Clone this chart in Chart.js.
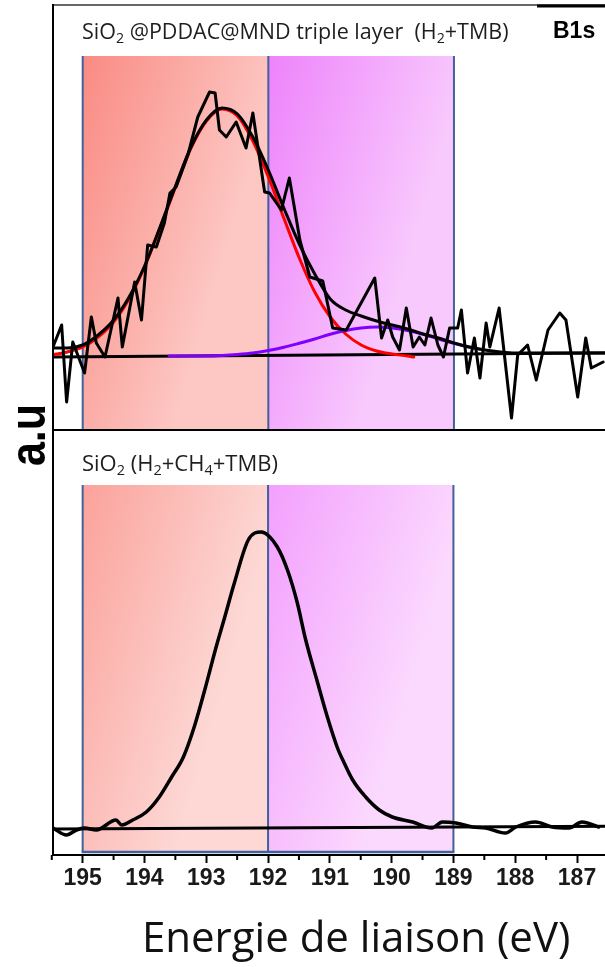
<!DOCTYPE html>
<html>
<head>
<meta charset="utf-8">
<script src="https://cdn.jsdelivr.net/npm/chart.js@4.4.1/dist/chart.umd.min.js"></script>
<style>
  html, body { margin: 0; padding: 0; background: #fff; }
  #wrap { position: relative; width: 605px; height: 967px; overflow: hidden; }
  #wrap canvas { position: absolute; left: 0; top: 0; }
</style>
</head>
<body>
<div id="wrap">
  <canvas id="bottomChart" width="660" height="967"></canvas>
  <canvas id="topChart" width="660" height="967"></canvas>
</div>
<script>
// binding energy window (reversed axis) and shaded regions
const xLeft = 195.48
const xRight = 185.67
const regionEdges = [195, 192, 189]

// top panel: SiO2@PDDAC@MND triple layer (H2+TMB), raw spectrum
const topEv = [195.48, 195.34, 195.26, 195.16, 194.97, 194.86, 194.78, 194.64, 194.43, 194.36,
  194.16, 194.05, 193.95, 193.81, 193.68, 193.59, 193.49, 193.30, 193.14, 192.95,
  192.86, 192.79, 192.68, 192.52, 192.36, 192.25, 192.06, 191.98, 191.79, 191.66,
  191.49, 191.33, 191.12, 190.96, 190.74, 190.28, 190.17, 190.07, 189.99, 189.88,
  189.77, 189.66, 189.56, 189.47, 189.37, 189.26, 189.17, 189.07, 188.94, 188.88,
  188.78, 188.67, 188.58, 188.48, 188.42, 188.27, 188.07, 187.97, 187.81, 187.67,
  187.48, 187.29, 187.19, 187.00, 186.87, 186.78, 186.59]
const topCounts = [10, 32, -45, 15, -16, 40, 14, 0, 59, 10,
  75, 37, 112, 110, 134, 164, 170, 202, 240, 265,
  264, 227, 220, 235, 209, 244, 165, 164, 147, 179,
  117, 80, 76, 29, 27, 79, 19, 37, 20, 7,
  49, 10, 20, 12, 39, 12, 0, 29, 29, 47,
  -16, 19, -21, 34, 10, 49, -61, 2, 12, -23,
  27, 44, 37, -40, 19, -11, -5]

// top panel: fit envelope and components
const envEv = [195.5, 195.25, 195, 194.75, 194.5, 194.25, 194, 193.75, 193.5, 193.25,
  193, 192.75, 192.5, 192.25, 192, 191.75, 191.5, 191.25, 191, 190.75,
  190.5, 190.25, 190, 189.75, 189.5, 189.25, 189, 188.75, 188.5, 188.25,
  188, 187.5, 187, 186.5, 186, 185.67]
const envCounts = [9, 9, 12, 22, 37, 60, 91, 130, 171, 210,
  237, 249, 243, 220, 187, 149, 113, 83, 58, 47,
  41, 36, 32, 28, 23, 19, 14, 10, 7, 5,
  4, 4, 4, 4, 4, 4]
const redEv = [195.5, 195.25, 195, 194.75, 194.5, 194.25, 194, 193.75, 193.5, 193.25,
  193, 192.75, 192.5, 192.25, 192, 191.75, 191.5, 191.25, 191, 190.75,
  190.5, 190.25, 190, 189.75, 189.65]
const redCounts = [2, 5, 10, 20, 35, 58, 90, 129, 170, 209,
  236, 248, 241, 216, 180, 139, 99, 65, 40, 23,
  12, 6, 3, 1, 0]
const purpleEv = [193.6, 193.25, 193, 192.75, 192.5, 192.25, 192, 191.75, 191.5, 191.25,
  191, 190.75, 190.5, 190.25, 190, 189.75, 189.5, 189.25, 189, 188.75]
const purpleCounts = [1, 1, 1, 1.5, 2.5, 4, 6.5, 9.7, 13.7, 18,
  22.7, 26.5, 29, 30, 29, 26.5, 22.7, 18, 13.7, 9.7]
const topBaseEv = [195.48, 185.67]
const topBaseCounts = [0, 4.5]

// bottom panel: SiO2 (H2+CH4+TMB)
const botEv = [195.48, 195.26, 195.10, 194.97, 194.78, 194.46, 194.37, 194.19, 193.97, 193.76,
  193.57, 193.37, 193.19, 193.02, 192.84, 192.70, 192.55, 192.32, 192.11, 191.85,
  191.68, 191.53, 191.39, 191.21, 191.04, 190.87, 190.79, 190.63, 190.42, 190.20,
  189.99, 189.66, 189.35, 189.18, 188.96, 188.69, 188.48, 188.16, 187.99, 187.67,
  187.40, 187.13, 186.92, 186.65]
const botCounts = [1, -6, -1, 1, -1, 9, 4, 9, 17, 32,
  51, 72, 103, 140, 182, 212, 245, 289, 297, 282,
  258, 227, 189, 149, 112, 80, 69, 49, 32, 19,
  12, 7, 1, 7, 6, 2, 1, -4, 2, 7,
  2, 1, 7, 2]
const botBaseEv = [195.48, 185.67]
const botBaseCounts = [0, 3]

const pts = (xs, ys) => xs.map((x, i) => ({ x: x, y: ys[i] }))

const calibri = '"Open Sans", Lato, sans-serif'
const arial = '"Liberation Sans", Arial, sans-serif'

function drawRich(ctx, parts, x, y, size) {
  ctx.save()
  ctx.fillStyle = '#1e1e1e'
  ctx.textBaseline = 'alphabetic'
  ctx.textAlign = 'left'
  for (const [text, sub] of parts) {
    const s = sub ? size * 0.66 : size
    ctx.font = s + 'px ' + calibri
    ctx.fillText(text, x, sub ? y + size * 0.2 : y)
    x += ctx.measureText(text).width
  }
  ctx.restore()
}

function line(ctx, x0, y0, x1, y1, w, c) {
  ctx.save()
  ctx.strokeStyle = c
  ctx.lineWidth = w
  ctx.beginPath()
  ctx.moveTo(x0, y0)
  ctx.lineTo(x1, y1)
  ctx.stroke()
  ctx.restore()
}

// gradient boxes behind the spectra
const shadePlugin = {
  id: 'shade',
  beforeDatasetsDraw(chart, args, opts) {
    const ctx = chart.ctx
    const xs = chart.scales.x
    const ys = chart.scales.y
    const top = ys.getPixelForValue(opts.top)
    const bottom = ys.getPixelForValue(opts.bottom)
    ctx.save()
    for (let i = 0; i < regionEdges.length - 1; i++) {
      const x0 = xs.getPixelForValue(regionEdges[i])
      const x1 = xs.getPixelForValue(regionEdges[i + 1])
      const g = ctx.createLinearGradient(x0, top, x1, top + (bottom - top) * 0.15)
      g.addColorStop(0, opts.colors[i][0])
      g.addColorStop(1, opts.colors[i][1])
      ctx.fillStyle = g
      ctx.fillRect(x0, top, x1 - x0, bottom - top)
    }
    ctx.restore()
    for (const v of regionEdges) {
      const px = xs.getPixelForValue(v)
      line(ctx, px, top, px, bottom, 2, '#42619c')
    }
    if (opts.closed) {
      line(ctx, xs.getPixelForValue(regionEdges[0]) - 1, bottom,
        xs.getPixelForValue(regionEdges[regionEdges.length - 1]) + 1, bottom, 2.5, '#42619c')
    }
  }
}

const topFrame = {
  id: 'topFrame',
  afterDraw(chart) {
    const ctx = chart.ctx
    const a = chart.chartArea
    line(ctx, a.left, a.top, a.right, a.top, 1.5, '#333')
    line(ctx, 537, a.top + 1, a.right, a.top + 1, 3, '#000')
    line(ctx, a.left, a.bottom, a.right, a.bottom, 2, '#000')
    line(ctx, a.left, a.top - 1, a.left, a.bottom, 2, '#000')

    drawRich(ctx, [['SiO', false], ['2', true], [' @PDDAC@MND triple layer  (H', false], ['2', true], ['+TMB)', false]], 82, 39, 21.5)
    drawRich(ctx, [['SiO', false], ['2', true], [' (H', false], ['2', true], ['+CH', false], ['4', true], ['+TMB)', false]], 82, 471, 22)

    ctx.save()
    ctx.fillStyle = '#000'
    ctx.font = 'bold 23px ' + arial
    ctx.textBaseline = 'alphabetic'
    ctx.fillText('B1s', 553, 38)
    ctx.translate(45, 435)
    ctx.rotate(-Math.PI / 2)
    ctx.scale(0.86, 1)
    ctx.textAlign = 'center'
    ctx.font = 'bold 50px ' + arial
    ctx.fillText('a.u', 0, 0)
    ctx.restore()
  }
}

const bottomFrame = {
  id: 'bottomFrame',
  afterDraw(chart) {
    const ctx = chart.ctx
    const a = chart.chartArea
    const xs = chart.scales.x
    line(ctx, a.left, a.top, a.left, a.bottom + 1, 2, '#000')
    // half-unit minor ticks
    for (let v = 195.5; v > xRight; v -= 1) {
      const px = xs.getPixelForValue(v)
      line(ctx, px, a.bottom, px, a.bottom + 5, 2, '#000')
    }
  }
}

const common = {
  responsive: false,
  animation: false,
  devicePixelRatio: 1,
  elements: { point: { radius: 0 }, line: { borderJoinStyle: 'round', borderCapStyle: 'round' } },
  plugins: { legend: { display: false }, tooltip: { enabled: false } }
}

new Chart(document.getElementById('bottomChart'), {
  type: 'line',
  data: {
    datasets: [
      { data: pts(botEv, botCounts), borderColor: '#000', borderWidth: 3.5, cubicInterpolationMode: 'monotone' },
      { data: pts(botBaseEv, botBaseCounts), borderColor: '#000', borderWidth: 3 }
    ]
  },
  options: Object.assign({}, common, {
    layout: { padding: { left: 53, top: 430, right: 0, bottom: 0 } },
    scales: {
      x: {
        type: 'linear', reverse: true, min: xRight, max: xLeft,
        afterFit: s => { s.height = 112 },
        border: { display: true, color: '#000', width: 2 },
        grid: { drawOnChartArea: false, drawTicks: true, tickLength: 8, tickColor: '#000', tickWidth: 2 },
        ticks: {
          stepSize: 1, includeBounds: false, autoSkip: false, maxRotation: 0, padding: 2,
          color: '#1a1a1a', font: { family: arial, size: 23, weight: 'bold' }
        },
        title: {
          display: true, text: 'Energie de liaison (eV)', color: '#111',
          font: { family: calibri, size: 42 }, padding: { top: 0, bottom: 2 }
        }
      },
      y: { min: -26, max: 399, display: false }
    },
    plugins: Object.assign({}, common.plugins, {
      shade: {
        top: 344, bottom: -23, closed: true,
        colors: [['#fba29b', '#fdd8d5'], ['#f3a0fd', '#fbd8fe']]
      }
    })
  }),
  plugins: [shadePlugin, bottomFrame]
})

new Chart(document.getElementById('topChart'), {
  type: 'line',
  data: {
    datasets: [
      { data: pts(topEv, topCounts), borderColor: '#000', borderWidth: 3, tension: 0 },
      { data: pts(envEv, envCounts), borderColor: '#000', borderWidth: 3, cubicInterpolationMode: 'monotone' },
      { data: pts(purpleEv, purpleCounts), borderColor: '#8000ff', borderWidth: 3, cubicInterpolationMode: 'monotone' },
      { data: pts(redEv, redCounts), borderColor: '#ff0000', borderWidth: 3, cubicInterpolationMode: 'monotone' },
      { data: pts(topBaseEv, topBaseCounts), borderColor: '#000', borderWidth: 3 }
    ]
  },
  options: Object.assign({}, common, {
    layout: { padding: { left: 53, top: 5, right: 0, bottom: 537 } },
    scales: {
      x: { type: 'linear', reverse: true, min: xRight, max: xLeft, display: false },
      y: { min: -73, max: 352, display: false }
    },
    plugins: Object.assign({}, common.plugins, {
      shade: {
        top: 301, bottom: -73, closed: false,
        colors: [['#f98b83', '#fdc7c3'], ['#ee83fb', '#f8c9fd']]
      }
    })
  }),
  plugins: [shadePlugin, topFrame]
})
</script>
</body>
</html>
